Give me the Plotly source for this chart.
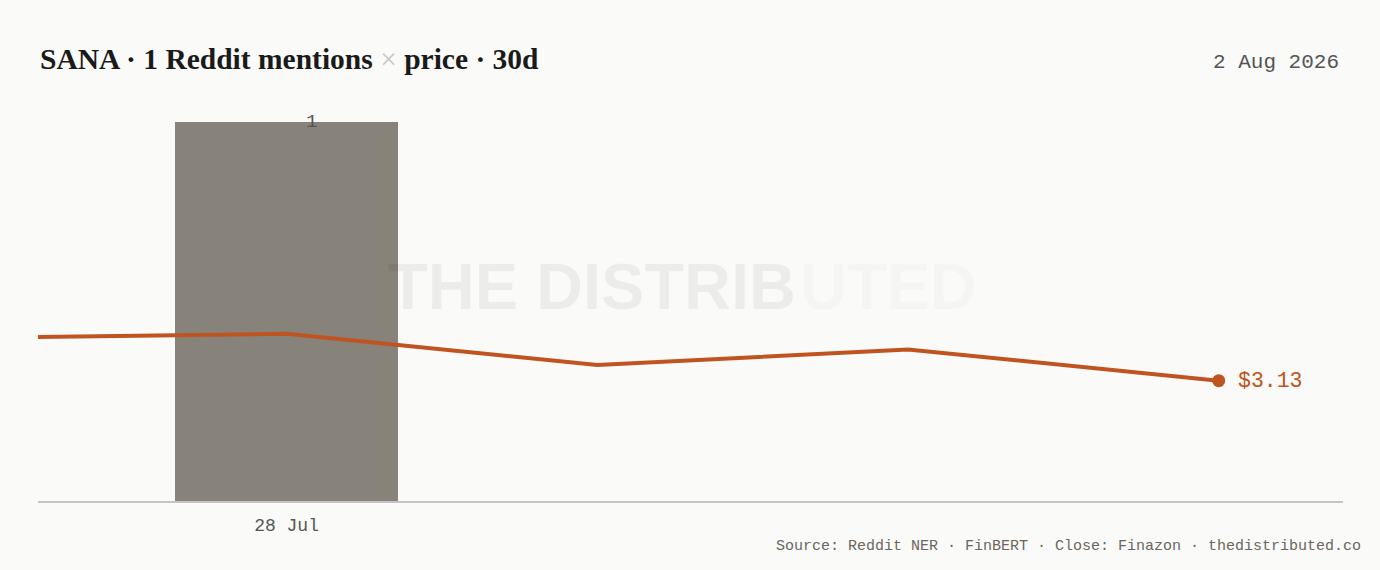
import pandas as pd
import plotly.graph_objects as go

# data
mention_dates = ["2026-07-28"]
mention_counts = [1]

price_dates = ["2026-07-27", "2026-07-28", "2026-07-29", "2026-07-30", "2026-07-31"]
price_close = [3.24, 3.25, 3.17, 3.21, 3.13]

tick_dates = ["2026-07-28"]
tick_labels = ["28 Jul"]

ticker = "SANA"
as_of = "2 Aug 2026"

BG = "#fafaf8"
BAR = "#87837a"
LINE = "#bf5420"
MONO = "Liberation Mono, DejaVu Sans Mono, monospace"
SERIF = "Liberation Serif, DejaVu Serif, serif"
SANS = "Liberation Sans, Arial, sans-serif"

day = pd.Timedelta(days=1)
x_lo = pd.Timestamp(mention_dates[0]) - 0.8 * day
x_hi = pd.Timestamp(price_dates[-1]) + 0.4 * day

fig = go.Figure()

fig.add_trace(go.Bar(
    x=mention_dates,
    y=mention_counts,
    width=0.72 * 86400000,
    marker=dict(color=BAR, line=dict(width=0)),
    hoverinfo="skip",
    showlegend=False,
))

fig.add_trace(go.Scatter(
    x=price_dates,
    y=price_close,
    yaxis="y2",
    mode="lines",
    line=dict(color=LINE, width=4),
    hoverinfo="skip",
    showlegend=False,
))

# end point marker
fig.add_trace(go.Scatter(
    x=price_dates[-1:],
    y=price_close[-1:],
    yaxis="y2",
    mode="markers",
    marker=dict(color=LINE, size=13),
    cliponaxis=False,
    hoverinfo="skip",
    showlegend=False,
))

# last price label
fig.add_annotation(
    x=price_dates[-1], y=price_close[-1], yref="y2",
    text=f"${price_close[-1]:.2f}", showarrow=False,
    xanchor="left", yanchor="middle", xshift=17,
    font=dict(family=MONO, size=21.5, color=LINE),
)

# bar value label
for d, c in zip(mention_dates, mention_counts):
    fig.add_annotation(
        x=d, y=c, text=str(c), showarrow=False,
        xshift=25, yanchor="middle",
        font=dict(family=MONO, size=19, color="#555555"),
    )

# watermark: crisp left part, soft right part
wm_split = 0.5824
fig.add_annotation(
    xref="paper", yref="paper", x=wm_split, y=0.567,
    text="<b>THE DISTRIB</b>", showarrow=False,
    xanchor="right", yanchor="middle",
    font=dict(family=SANS, size=65, color="rgba(0,0,0,0.055)"),
)
fig.add_annotation(
    xref="paper", yref="paper", x=wm_split, y=0.567,
    text="<b>UTED</b>", showarrow=False,
    xanchor="left", yanchor="middle",
    font=dict(family=SANS, size=65, color="rgba(0,0,0,0.02)",
              shadow="0px 0px 3px rgba(0,0,0,0.09)"),
)

# title
fig.add_annotation(
    xref="paper", yref="paper", x=0, y=1.165,
    xanchor="left", yanchor="middle", showarrow=False,
    text=(f"<b>{ticker} · {sum(mention_counts)} Reddit mentions "
          f"<span style='color:#c8c8c8;font-weight:normal'>×</span> price · 30d</b>"),
    font=dict(family=SERIF, size=29.5, color="#1a1a1a"),
)

fig.add_annotation(
    xref="paper", yref="paper", x=0.9985, y=1.158,
    xanchor="right", yanchor="middle", showarrow=False,
    text=as_of,
    font=dict(family=MONO, size=21, color="#555555"),
)

fig.add_annotation(
    xref="paper", yref="paper", x=1.0155, y=-0.121,
    xanchor="right", yanchor="middle", showarrow=False,
    text="Source: Reddit NER · FinBERT · Close: Finazon · thedistributed.co",
    font=dict(family=MONO, size=15, color="#6b665e"),
)

fig.update_layout(
    width=1380,
    height=570,
    paper_bgcolor=BG,
    plot_bgcolor=BG,
    margin=dict(l=38, r=37, t=122, b=69),
    bargap=0,
    xaxis=dict(
        type="date",
        range=[x_lo, x_hi],
        tickvals=tick_dates,
        ticktext=tick_labels,
        tickfont=dict(family=MONO, size=18, color="#555555"),
        showgrid=False,
        zeroline=False,
        showline=True,
        linecolor="#c4c4c4",
        linewidth=1.5,
        ticks="",
        ticklabelstandoff=7,
    ),
    yaxis=dict(
        range=[0, max(mention_counts)],
        showgrid=False,
        zeroline=False,
        showticklabels=False,
        fixedrange=True,
    ),
    yaxis2=dict(
        overlaying="y",
        range=[2.822, 3.792],
        showgrid=False,
        zeroline=False,
        showticklabels=False,
    ),
)

fig.write_html(
    "out.html",
    config={"displayModeBar": False},
    post_script=f"document.body.style.margin='0';document.body.style.background='{BG}';",
)
